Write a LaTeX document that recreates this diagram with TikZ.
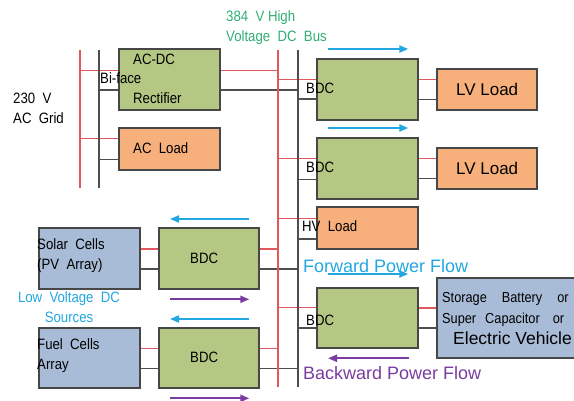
\documentclass[tikz,border=0pt]{standalone}
\usepackage{fontspec}
\setmainfont{Liberation Sans}
\newfontfamily\narrowfont[FakeStretch=0.88]{Liberation Sans}
\usetikzlibrary{arrows.meta, positioning, calc}

\definecolor{convgreen}{HTML}{B4C884}
\definecolor{loadorange}{HTML}{F7B07C}
\definecolor{srcblue}{HTML}{A9BCD7}
\definecolor{busred}{HTML}{E0585E}
\definecolor{busgray}{HTML}{4E4E4E}
\definecolor{fwdcyan}{HTML}{22A7E0}
\definecolor{bwdpurple}{HTML}{7A3C9E}
\definecolor{dcgreen}{HTML}{2FAE72}

\begin{document}
\begin{tikzpicture}[x=1pt, y=-1pt,
    box/.style={draw=black!72, line width=1.3pt, anchor=north west, inner sep=0pt,
                minimum width=100pt, minimum height=60pt},
    conv/.style={box, fill=convgreen},
    load/.style={box, fill=loadorange, minimum height=41pt},
    src/.style={box, fill=srcblue},
    redl/.style={draw=busred, line width=1.4pt},
    grayl/.style={draw=busgray, line width=1.4pt},
    redbus/.style={draw=busred, line width=1.8pt},
    graybus/.style={draw=busgray, line width=1.8pt},
    fwd/.style={draw=fwdcyan, line width=2pt, -{Triangle[length=9pt,width=7pt]}},
    bwd/.style={draw=bwdpurple, line width=2pt, -{Triangle[length=9pt,width=7pt]}},
    lbl/.style={anchor=west, inner sep=0pt, align=left, font=\narrowfont\fontsize{15}{20}\selectfont},
    big/.style={font=\fontsize{17}{20}\selectfont},
]
\useasboundingbox (0,0) rectangle (574,400);
\clip (0,0) rectangle (574,400);

% buses
\coordinate (acR top) at (80,50);   \coordinate (acR bot) at (80,188);
\coordinate (acG top) at (99,50);   \coordinate (acG bot) at (99,188);
\coordinate (dcR top) at (278,50);  \coordinate (dcR bot) at (278,387);
\coordinate (dcG top) at (298,50);  \coordinate (dcG bot) at (298,387);

% boxes
\node[conv] (acdc) at (119,49) {};
\node[load] (acload) at (119,128) {};
\node[conv] (bdc1) at (317,59) {};
\node[conv] (bdc2) at (317,138) {};
\node[load, minimum width=99pt, minimum height=40pt] (lv1) at (437,69) {};
\node[load, minimum width=99pt, minimum height=40pt] (lv2) at (437,148) {};
\node[load] (hv) at (317,207) {};
\node[conv, minimum height=59pt] (bdc3) at (317,288) {};
\node[src, minimum width=150pt, minimum height=79pt] (store) at (437,278) {};
\node[src] (solar) at (39,228) {};
\node[conv, minimum width=99pt] (bdcs) at (159,228) {};
\node[src, minimum height=59pt] (fuel) at (39,328) {};
\node[conv, minimum width=99pt, minimum height=59pt] (bdcf) at (159,328) {};

% taps on the AC grid
\foreach \b/\r/\g in {acdc/.35/.67, acload/.25/.75} {
    \draw[redl] ($(\b.north west)!\r!(\b.south west)$) coordinate (t) -- (t -| acR top);
    \draw[grayl] ($(\b.north west)!\g!(\b.south west)$) coordinate (t) -- (t -| acG top);
}
\draw[redl] ($(acdc.north east)!.35!(acdc.south east)$) coordinate (t) -- (t -| dcR top);
\draw[grayl] ($(acdc.north east)!.67!(acdc.south east)$) coordinate (t) -- (t -| dcG top);

% taps on the DC bus
\foreach \b/\r/\g in {bdc1/.33/.65, bdc2/.33/.68, hv/.27/.76, bdc3/.32/.66} {
    \draw[redl] ($(\b.north west)!\r!(\b.south west)$) coordinate (t) -- (t -| dcR top);
    \draw[grayl] ($(\b.north west)!\g!(\b.south west)$) coordinate (t) -- (t -| dcG top);
}
\foreach \b/\l in {bdc1/lv1, bdc2/lv2, bdc3/store} {
    \draw[redl] ($(\b.north east)!.33!(\b.south east)$) coordinate (t) -- (t -| \l.west);
    \draw[grayl] ($(\b.north east)!.66!(\b.south east)$) coordinate (t) -- (t -| \l.west);
}
\foreach \s/\b in {solar/bdcs, fuel/bdcf} {
    \draw[redl] ($(\b.north west)!.34!(\b.south west)$) coordinate (t) -- (t -| \s.east);
    \draw[grayl] ($(\b.north west)!.67!(\b.south west)$) coordinate (t) -- (t -| \s.east);
    \draw[redl] ($(\b.north east)!.34!(\b.south east)$) coordinate (t) -- (t -| dcR top);
    \draw[grayl] ($(\b.north east)!.67!(\b.south east)$) coordinate (t) -- (t -| dcG top);
}

\draw[redbus] (acR top) -- (acR bot);
\draw[graybus] (acG top) -- (acG bot);
\draw[redbus] (dcR top) -- (dcR bot);
\draw[graybus] (dcG top) -- (dcG bot);

% redraw box outlines over the taps
\foreach \b in {acdc, acload, bdc1, bdc2, lv1, lv2, hv, bdc3, store, solar, bdcs, fuel, bdcf}
    \draw[draw=black!72, line width=1.3pt] (\b.north west) rectangle (\b.south east);

% power flow arrows
\foreach \b in {bdc1, bdc2} {
    \draw[fwd] ($(\b.north west)+(11,-10)$) -- ($(\b.north east)+(-10,-10)$);
}
\draw[fwd] ($(bdc3.north west)+(11,-14)$) -- ($(bdc3.north east)+(-10,-14)$);
\draw[bwd] ($(bdc3.south east)+(-9,10)$) -- ($(bdc3.south west)+(11,10)$);
\foreach \b in {bdcs, bdcf} {
    \draw[fwd] ($(\b.north east)+(-10,-9)$) -- ($(\b.north west)+(11,-9)$);
    \draw[bwd] ($(\b.south west)+(11,10)$) -- ($(\b.south east)+(-10,10)$);
}

% labels
\node[lbl] (grid) at (13,108) {230~~V\\AC~~Grid};
\node[lbl, text=dcgreen] (dcbus) at (226,28) {384~~V~High\\Voltage~~DC~~Bus};
\node[lbl] (acdc t1) at (133,59) {AC-DC};
\node[lbl] (acdc t2) at (100,78) {Bi-face};
\node[lbl] (acdc t3) at (133,98) {Rectifier};
\node[lbl] (acload t) at (133,148) {AC~~Load};
\node[lbl] (bdc1 t) at (306,88) {BDC};
\node[lbl] (bdc2 t) at (306,167) {BDC};
\node[lbl] (bdc3 t) at (306,320) {BDC};
\node[lbl] (hv t) at (302,226) {HV~~Load};
\node[big] (lv1 t) at (lv1.center) {LV Load};
\node[big] (lv2 t) at (lv2.center) {LV Load};
\node[lbl] (bdcs t) at (190,258) {BDC};
\node[lbl] (bdcf t) at (190,357) {BDC};
\node[lbl] (solar t) at (37,256) {Solar~~Cells\\(PV~~Array)};
\node[lbl] (fuel t) at (37,356) {Fuel~~Cells\\Array};
\node[lbl, align=center, anchor=center, text=fwdcyan] (lvdc) at (69,307) {Low~~Voltage~~DC\\Sources};
\node[lbl, text=fwdcyan, font=\fontsize{18}{20}\selectfont] (fwd t) at (303,266) {Forward Power Flow};
\node[lbl, text=bwdpurple, font=\fontsize{18}{20}\selectfont] (bwd t) at (303,373) {Backward Power Flow};
\node[lbl, font=\narrowfont\fontsize{14.5}{21}\selectfont] (store t) at (442,309)
    {Storage\hspace{15pt}Battery\hspace{15pt}or\\Super\hspace{9pt}Capacitor\hspace{13pt}or};
\node[lbl, font=\fontsize{17.5}{20}\selectfont] (store t2) at (453,338) {Electric Vehicle};
\end{tikzpicture}
\end{document}
